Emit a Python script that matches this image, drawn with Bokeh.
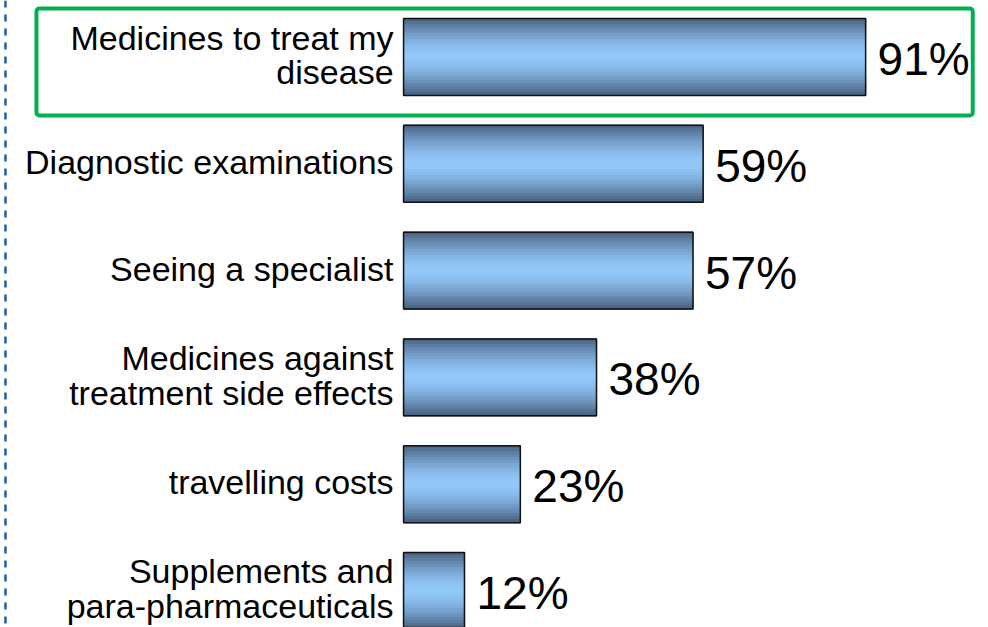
from bokeh.plotting import figure
from bokeh.models import Range1d, ColumnDataSource, BoxAnnotation, Span
from bokeh.core.properties import value
from bokeh.embed import file_html
from bokeh.resources import INLINE

categories = [
    "Medicines to treat my\ndisease",
    "Diagnostic examinations",
    "Seeing a specialist",
    "Medicines against\ntreatment side effects",
    "travelling costs",
    "Supplements and\npara-pharmaceuticals",
]
shares = [91, 59, 57, 38, 23, 12]
share_labels = ["91%", "59%", "57%", "38%", "23%", "12%"]
highlight_index = 0

W, H = 988, 627
FONT = value("Liberation Sans")

p = figure(width=W, height=H, output_backend="svg", toolbar_location=None,
           x_range=Range1d(-79.38, 115.2), y_range=Range1d(5.342, -0.529),
           min_border=0, outline_line_color=None, background_fill_color="white")
p.axis.visible = False
p.xgrid.visible = False
p.ygrid.visible = False

# gradient bars made of thin horizontal strips
bar_h = 0.72
n_strips = 26
dark = (0x47, 0x5d, 0x7d)
light = (0x92, 0xc8, 0xfa)
ys, rights, hs, cols = [], [], [], []
for i, v in enumerate(shares):
    for k in range(n_strips):
        t = (k + 0.5) / n_strips
        d = abs(t - 0.5) * 2
        f = d ** 1.6
        c = tuple(int(round(light[j] + (dark[j] - light[j]) * f)) for j in range(3))
        ys.append(i - bar_h / 2 + (k + 0.5) * bar_h / n_strips)
        rights.append(v)
        hs.append(bar_h / n_strips)
        cols.append("#%02x%02x%02x" % c)
strip_src = ColumnDataSource(dict(y=ys, right=rights, h=hs, c=cols))
p.hbar(y="y", left=0, right="right", height="h", fill_color="c", line_color="c",
       line_width=1.2, source=strip_src)

src = ColumnDataSource(dict(y=list(range(len(shares))), v=shares, lab=categories,
                            pl=share_labels, zero=[0] * len(shares)))
p.hbar(y="y", left=0, right="v", height=bar_h, fill_color=None, line_color="#111111",
       line_width=1.5, source=src)

p.text(x="zero", y="y", text="lab", source=src, x_offset=-10, y_offset=-2,
       text_align="right", text_baseline="middle", text_font=FONT,
       text_font_size="34px", text_line_height=0.92, text_color="black")
p.text(x="v", y="y", text="pl", source=src, x_offset=12, y_offset=2, text_align="left",
       text_baseline="middle", text_font=FONT, text_font_size="46px", text_color="black")

# highlight box around first row
p.add_layout(BoxAnnotation(left=-72.3, right=112.1, top=highlight_index - 0.454,
                           bottom=highlight_index + 0.548, fill_alpha=0,
                           line_color="#00b050", line_alpha=1.0, line_width=4,
                           border_radius=3))

# dashed vertical line at the left
p.add_layout(Span(location=-78.4, dimension="height", line_color="#1f5db0",
                  line_alpha=1.0, line_width=2.5, line_dash="7 7"))

open("out.html", "w").write(file_html(p, INLINE))
